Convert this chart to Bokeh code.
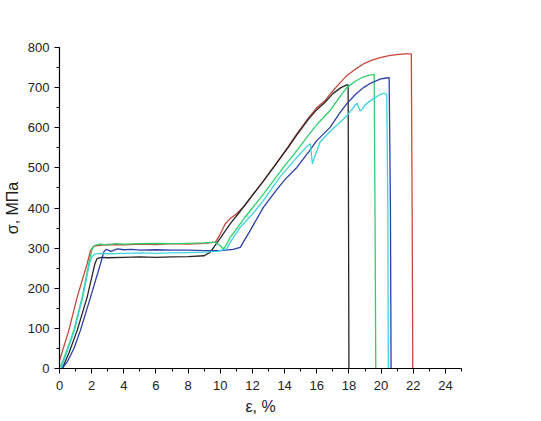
from bokeh.plotting import figure
from bokeh.models import Range1d, SingleIntervalTicker
from bokeh.embed import file_html
from bokeh.resources import INLINE

# Stress-strain curves (strain in %, stress in MPa)
red_eps = [0.0, 0.58, 1.1, 1.72, 1.93, 2.13, 2.5, 3.0, 4.0, 5.0, 6.0, 7.0, 8.0, 9.0, 9.7,
           10.0, 10.3, 10.6, 11.0, 11.5, 12.0, 12.7, 13.5, 14.2, 14.76, 15.5, 16.0, 16.5,
           16.83, 17.4, 17.87, 18.4, 18.9, 19.4, 19.94, 20.5, 20.97, 21.5, 21.88, 21.93, 21.97]
red_sig = [20, 95, 178, 261, 294, 305, 307, 309, 308, 310, 309, 311, 310, 312, 315,
           335, 360, 373, 385, 405, 432, 468, 512, 552, 585, 625, 650, 667,
           684, 710, 730, 746, 759, 768, 775, 780, 782, 784, 784, 400, 0]

green_eps = [0.06, 0.5, 0.89, 1.41, 1.82, 2.03, 2.2, 2.5, 3.0, 3.5, 4.0, 5.0, 6.0, 7.0, 8.0,
             9.0, 9.69, 10.0, 10.2, 10.4, 10.62, 11.5, 12.0, 12.69, 13.5, 14.0, 14.76,
             15.5, 16.0, 16.83, 17.4, 17.87, 18.4, 18.9, 19.3, 19.57, 19.62, 19.67]
green_sig = [4, 50, 95, 178, 261, 298, 307, 310, 308, 311, 310, 311, 312, 311, 312,
             313, 315, 306, 298, 310, 327, 375, 400, 435, 478, 505, 543,
             582, 608, 643, 675, 700, 716, 727, 731, 733, 400, 0]

black_eps = [0.17, 0.6, 1.1, 1.72, 2.2, 2.34, 2.6, 3.0, 4.0, 5.0, 6.0, 7.0, 8.0, 9.0,
             9.38, 10.0, 10.6, 11.2, 12.0, 12.7, 13.5, 14.2, 14.76, 15.5, 16.0, 16.5,
             17.0, 17.5, 17.87, 17.95, 18.0]
black_sig = [0, 40, 95, 178, 261, 274, 277, 276, 277, 278, 277, 278, 279, 281,
             290, 325, 360, 390, 432, 468, 512, 550, 582, 622, 645, 663,
             685, 700, 707, 707, 0]

blue_eps = [0.17, 0.5, 0.9, 1.3, 1.93, 2.55, 2.75, 2.9, 3.2, 3.6, 4.0, 4.5, 5.0, 6.0, 7.0,
            8.0, 9.0, 10.0, 10.8, 11.24, 11.8, 12.69, 13.5, 14.0, 14.76, 15.5, 16.0,
            16.83, 17.4, 17.87, 18.4, 18.9, 19.4, 19.94, 20.3, 20.5, 20.58, 20.62]
blue_sig = [0, 18, 50, 95, 178, 261, 290, 297, 292, 298, 296, 297, 295, 296, 295,
            295, 294, 294, 297, 302, 340, 402, 445, 470, 501, 540, 568,
            601, 635, 660, 683, 700, 712, 721, 724, 725, 400, 0]

cyan_eps = [0.1, 0.5, 0.93, 1.45, 1.86, 2.03, 2.2, 2.5, 3.0, 4.0, 5.0, 6.0, 7.0, 8.0, 9.0,
            9.8, 10.4, 10.7, 11.2, 12.0, 12.69, 13.7, 14.2, 14.76, 15.3, 15.6, 15.73,
            15.85, 16.2, 16.8, 17.4, 17.87, 18.5, 18.7, 18.8, 19.0, 19.5, 20.0, 20.2,
            20.35, 20.42, 20.45]
cyan_sig = [0, 45, 95, 178, 261, 280, 285, 287, 286, 287, 288, 287, 288, 289, 290,
            292, 298, 320, 350, 385, 419, 477, 500, 526, 550, 560, 510,
            525, 564, 590, 612, 630, 661, 642, 645, 657, 672, 684, 686,
            683, 400, 0]

x_label = "ε, %"
y_label = "σ, МПа"

p = figure(width=528, height=417, output_backend="svg", toolbar_location=None,
           x_range=Range1d(0, 25), y_range=Range1d(0, 800),
           min_border_left=59, min_border_right=67, min_border_top=47, min_border_bottom=49)
p.outline_line_color = None
p.xgrid.visible = False
p.ygrid.visible = False
p.background_fill_color = "white"
p.border_fill_color = "white"

series = [
    (red_eps, red_sig, "#c8473c"),
    (black_eps, black_sig, "#262626"),
    (green_eps, green_sig, "#2fcf6a"),
    (blue_eps, blue_sig, "#2c3fa6"),
    (cyan_eps, cyan_sig, "#3fd3e0"),
]
for xs, ys, c in series:
    p.line(xs, ys, line_color=c, line_width=1.3)

p.xaxis.ticker = SingleIntervalTicker(interval=2, num_minor_ticks=2)
p.yaxis.ticker = SingleIntervalTicker(interval=100, num_minor_ticks=2)
for ax in (p.xaxis[0], p.yaxis[0]):
    ax.axis_line_color = "black"
    ax.axis_line_width = 1.2
    ax.major_tick_line_color = "black"
    ax.minor_tick_line_color = "black"
    ax.major_tick_out = 5
    ax.major_tick_in = 0
    ax.minor_tick_out = 3
    ax.minor_tick_in = 0
    ax.major_label_text_font = "Liberation Sans"
    ax.major_label_text_font_size = "13px"
    ax.major_label_text_color = "#222222"
    ax.axis_label_text_font = "Liberation Sans"
    ax.axis_label_text_font_size = "16px"
    ax.axis_label_text_font_style = "normal"
    ax.axis_label_text_color = "#222222"

p.xaxis.axis_label = x_label
p.yaxis.axis_label = y_label
p.xaxis.major_label_standoff = 7
p.xaxis.axis_label_standoff = 5
p.yaxis.major_label_standoff = 5
p.yaxis.axis_label_standoff = 4

open("out.html", "w").write(file_html(p, INLINE))
